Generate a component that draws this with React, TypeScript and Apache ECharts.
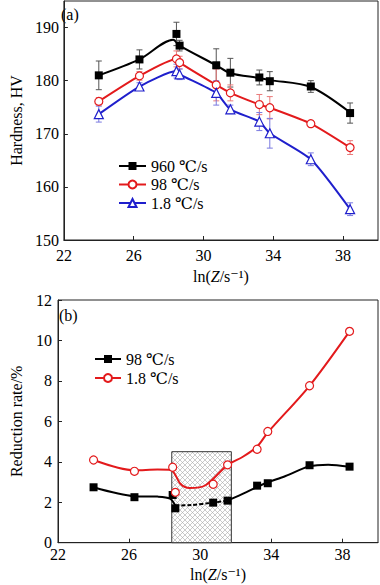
import React, { useEffect, useRef } from 'react';
import * as echarts from 'echarts';

// ---------- (a) hardness ----------
const xHard = [24.0, 26.33, 28.45, 28.63, 30.73, 31.54, 33.2, 33.8, 36.15, 38.4];
const hv960 = [181.0, 184.0, 188.8, 186.6, 182.9, 181.5, 180.6, 179.9, 178.9, 173.9];
const err960 = [2.7, 1.8, 2.2, 1.0, 3.1, 2.7, 1.4, 1.8, 1.1, 1.9];
const hv98 = [176.1, 180.9, 184.1, 183.4, 179.2, 177.7, 175.5, 174.9, 171.9, 167.4];
const err98 = [0.7, 0.8, 1.5, 1.2, 3.0, 1.5, 1.9, 2.1, 0.6, 1.3];
const hv18 = [173.7, 178.9, 181.8, 181.2, 177.7, 174.6, 172.3, 170.1, 165.2, 155.8];
const err18 = [1.5, 0.7, 1.3, 1.0, 2.3, 0.8, 1.7, 2.8, 1.2, 1.2];
// fitted curve of the 960 ℃/s series
const fit960X = [24.0, 26.33, 28.26, 28.63, 30.73, 31.54, 33.2, 33.8, 36.15, 38.4];
const fit960Y = [181.0, 184.0, 187.7, 186.6, 182.9, 181.4, 180.5, 180.1, 178.8, 174.0];

// ---------- (b) reduction rate ----------
const xRed = [24.0, 26.3, 28.45, 28.6, 30.73, 31.54, 33.2, 33.8, 36.15, 38.4];
const red98 = [2.74, 2.25, 2.36, 1.7, 1.98, 2.08, 2.82, 2.94, 3.83, 3.76];
const red18 = [4.09, 3.53, 3.73, 2.49, 2.89, 3.85, 4.62, 5.5, 7.76, 10.45];
// fitted curves
const fit98aX = [24.0, 26.3, 27.6, 28.3, 28.6];
const fit98aY = [2.74, 2.3, 2.28, 2.18, 1.84];
const fit98bX = [28.6, 29.5, 30.73, 31.54];
const fit98bY = [1.84, 1.86, 1.98, 2.08];
const fit98cX = [31.54, 32.6, 33.5, 34.8, 36.15, 37.2, 38.4];
const fit98cY = [2.08, 2.5, 2.88, 3.3, 3.78, 3.86, 3.76];
const fit18X = [24.0, 26.3, 27.6, 28.35, 28.9, 29.4, 30.3, 31.54, 32.4, 33.2, 33.8, 36.15, 38.4];
const fit18Y = [4.09, 3.58, 3.62, 3.6, 2.9, 2.7, 2.84, 3.85, 4.25, 4.75, 5.45, 7.76, 10.45];
const boxX = [28.4, 31.75];
const boxY = [0, 4.5];

const legendA = ['960 ℃/s', '98 ℃/s', '1.8 ℃/s'];
const legendB = ['98 ℃/s', '1.8 ℃/s'];

const FONT = "'Liberation Serif', 'DejaVu Serif', serif";
const BLACK = '#000000';
const RED = '#e31a1c';
const BLUE = '#1f1fcc';

const zip = (xs: number[], ys: number[]) => xs.map((x, i) => [x, ys[i]]);

function errSeries(xs: number[], ys: number[], es: number[], color: string) {
  return {
    type: 'custom',
    xAxisIndex: 0,
    yAxisIndex: 0,
    z: 3,
    silent: true,
    data: xs.map((x, i) => [x, ys[i], es[i]]),
    encode: { x: 0, y: 1 },
    renderItem: (_p: any, api: any) => {
      const x = api.value(0);
      const y = api.value(1);
      const e = api.value(2);
      const hi = api.coord([x, y + e]);
      const lo = api.coord([x, y - e]);
      const w = 3;
      const style = { stroke: color, lineWidth: 1 };
      return {
        type: 'group',
        children: [
          { type: 'line', shape: { x1: hi[0], y1: hi[1], x2: lo[0], y2: lo[1] }, style },
          { type: 'line', shape: { x1: hi[0] - w, y1: hi[1], x2: hi[0] + w, y2: hi[1] }, style },
          { type: 'line', shape: { x1: lo[0] - w, y1: lo[1], x2: lo[0] + w, y2: lo[1] }, style },
        ],
      };
    },
  };
}

const xName = '{n|ln(}{i|Z}{n|/s⁻¹)}';
const nameRich = {
  n: { fontFamily: FONT, fontSize: 16, color: '#000' },
  i: { fontFamily: FONT, fontSize: 16, fontStyle: 'italic', color: '#000' },
};

function xAxis(gridIndex: number, margin: number, nameGap: number) {
  return {
    type: 'value',
    gridIndex,
    min: 22,
    max: 40,
    interval: 4,
    name: xName,
    nameLocation: 'middle',
    nameGap,
    nameTextStyle: { rich: nameRich },
    axisLine: { show: true, onZero: false, lineStyle: { color: '#222', width: 1 } },
    axisTick: { show: true, inside: true, length: 4, lineStyle: { color: '#222' } },
    axisLabel: { fontFamily: FONT, fontSize: 16, color: '#000', margin, showMaxLabel: false },
    splitLine: { show: false },
  };
}

function yAxis(gridIndex: number, min: number, max: number, interval: number, name: string, nameGap: number, margin: number) {
  return {
    type: 'value',
    gridIndex,
    min,
    max,
    interval,
    name,
    nameLocation: 'middle',
    nameGap,
    nameTextStyle: { fontFamily: FONT, fontSize: 16, color: '#000' },
    axisLine: { show: true, onZero: false, lineStyle: { color: '#222', width: 1 } },
    axisTick: { show: true, inside: true, length: 4, lineStyle: { color: '#222' } },
    axisLabel: { fontFamily: FONT, fontSize: 16, color: '#000', margin, showMaxLabel: max % interval === 0 },
    splitLine: { show: false },
  };
}

const hatchSvg =
  "<svg xmlns='http://www.w3.org/2000/svg' width='5' height='5'><rect width='5' height='5' fill='#ffffff'/><path d='M0 0L5 5M5 0L0 5' stroke='#a8a8a8' stroke-width='0.6'/></svg>";
const hatchUrl = 'data:image/svg+xml;charset=utf-8,' + encodeURIComponent(hatchSvg);

const legendText = {
  fontFamily: FONT,
  fontSize: 16,
  color: '#000',
  lineHeight: 16,
  rich: { t: { fontFamily: FONT, fontSize: 16, color: '#000', lineHeight: 16 } },
};

export default function App() {
  const ref = useRef<HTMLDivElement>(null);
  useEffect(() => {
    if (!ref.current) return;
    const chart = echarts.init(ref.current, undefined, { renderer: 'svg' });
    const lineSmooth = 0.3;
    const option: any = {
      animation: false,
      backgroundColor: '#ffffff',
      textStyle: { fontFamily: FONT },
      grid: [
        { left: 53, top: 1, width: 325, height: 239, show: true, borderColor: '#222', borderWidth: 1 },
        { left: 53, top: 300, width: 325, height: 242.7, show: true, borderColor: '#222', borderWidth: 1 },
      ],
      xAxis: [xAxis(0, 7, 28), xAxis(1, 4, 24)],
      yAxis: [
        yAxis(0, 150, 195, 10, 'Hardness, HV', 36, 5),
        yAxis(1, 0, 12, 2, 'Reduction rate/%', 34, 6),
      ],
      legend: [
        {
          data: legendA,
          formatter: (n: string) => `{t|${n}}`,
          orient: 'vertical',
          left: 113,
          top: 153,
          itemWidth: 27,
          itemHeight: 10,
          itemGap: 2.5,
          selectedMode: false,
          textStyle: legendText,
          lineStyle: { opacity: 1 },
        },
        {
          data: ['r98', 'r18'],
          formatter: (n: string) => `{t|${n === 'r98' ? legendB[0] : legendB[1]}}`,
          orient: 'vertical',
          left: 89,
          top: 346,
          itemWidth: 26,
          itemHeight: 10,
          itemGap: 3,
          selectedMode: false,
          textStyle: legendText,
          lineStyle: { opacity: 1 },
        },
      ],
      graphic: [
        { type: 'text', left: 61, top: 6, style: { text: '(a)', font: `16px ${FONT}`, fill: '#000' } },
        { type: 'text', left: 59, top: 307, style: { text: '(b)', font: `16px ${FONT}`, fill: '#000' } },
      ],
      series: [
        // ---- (a) curves ----
        {
          type: 'line', xAxisIndex: 0, yAxisIndex: 0, z: 2, silent: true,
          data: zip(fit960X, fit960Y), symbol: 'none', smooth: lineSmooth,
          lineStyle: { color: BLACK, width: 2 },
        },
        {
          type: 'line', xAxisIndex: 0, yAxisIndex: 0, z: 2, silent: true,
          data: zip(xHard, hv98), symbol: 'none', smooth: 0.2,
          lineStyle: { color: RED, width: 2 },
        },
        {
          type: 'line', xAxisIndex: 0, yAxisIndex: 0, z: 2, silent: true,
          data: zip(xHard, hv18), symbol: 'none', smooth: 0.2,
          lineStyle: { color: BLUE, width: 2 },
        },
        errSeries(xHard, hv960, err960, '#555555'),
        errSeries(xHard, hv98, err98, '#ea7a7a'),
        errSeries(xHard, hv18, err18, '#7a7ae0'),
        // ---- (a) markers ----
        {
          name: legendA[0], type: 'line', xAxisIndex: 0, yAxisIndex: 0, z: 5,
          data: zip(xHard, hv960), symbol: 'rect', symbolSize: 8,
          itemStyle: { color: BLACK },
          lineStyle: { color: BLACK, width: 2.5, opacity: 0 },
        },
        {
          name: legendA[1], type: 'line', xAxisIndex: 0, yAxisIndex: 0, z: 5,
          data: zip(xHard, hv98), symbol: 'circle', symbolSize: 8,
          itemStyle: { color: '#ffffff', borderColor: RED, borderWidth: 1.2 },
          lineStyle: { color: RED, width: 2.5, opacity: 0 },
        },
        {
          name: legendA[2], type: 'line', xAxisIndex: 0, yAxisIndex: 0, z: 5,
          data: zip(xHard, hv18), symbol: 'triangle', symbolSize: 9,
          itemStyle: { color: '#ffffff', borderColor: BLUE, borderWidth: 1.2 },
          lineStyle: { color: BLUE, width: 2.5, opacity: 0 },
        },
        // ---- (b) hatched box ----
        {
          type: 'line', xAxisIndex: 1, yAxisIndex: 1, z: 1, silent: true, data: [],
          markArea: {
            silent: true,
            itemStyle: {
              color: { image: hatchUrl, repeat: 'repeat', imageWidth: 5, imageHeight: 5 },
              borderColor: '#333',
              borderWidth: 1,
            },
            data: [[{ coord: [boxX[0], boxY[0]] }, { coord: [boxX[1], boxY[1]] }]],
          },
        },
        // ---- (b) curves ----
        {
          type: 'line', xAxisIndex: 1, yAxisIndex: 1, z: 2, silent: true,
          data: zip(fit98aX, fit98aY), symbol: 'none', smooth: lineSmooth,
          lineStyle: { color: BLACK, width: 2 },
        },
        {
          type: 'line', xAxisIndex: 1, yAxisIndex: 1, z: 2, silent: true,
          data: zip(fit98bX, fit98bY), symbol: 'none', smooth: lineSmooth,
          lineStyle: { color: BLACK, width: 2, type: [4, 2] },
        },
        {
          type: 'line', xAxisIndex: 1, yAxisIndex: 1, z: 2, silent: true,
          data: zip(fit98cX, fit98cY), symbol: 'none', smooth: lineSmooth,
          lineStyle: { color: BLACK, width: 2 },
        },
        {
          type: 'line', xAxisIndex: 1, yAxisIndex: 1, z: 2, silent: true,
          data: zip(fit18X, fit18Y), symbol: 'none', smooth: lineSmooth,
          lineStyle: { color: RED, width: 2 },
        },
        // ---- (b) markers ----
        {
          name: 'r98', type: 'line', xAxisIndex: 1, yAxisIndex: 1, z: 5,
          data: zip(xRed, red98), symbol: 'rect', symbolSize: 8,
          itemStyle: { color: BLACK },
          lineStyle: { color: BLACK, width: 2.5, opacity: 0 },
        },
        {
          name: 'r18', type: 'line', xAxisIndex: 1, yAxisIndex: 1, z: 5,
          data: zip(xRed, red18), symbol: 'circle', symbolSize: 8,
          itemStyle: { color: '#ffffff', borderColor: RED, borderWidth: 1.2 },
          lineStyle: { color: RED, width: 2.5, opacity: 0 },
        },
      ],
    };
    chart.setOption(option);
    return () => chart.dispose();
  }, []);
  return (
    <div
      ref={ref}
      style={{ position: 'fixed', left: 0, top: 0, width: 380, height: 585, background: '#fff' }}
    />
  );
}
